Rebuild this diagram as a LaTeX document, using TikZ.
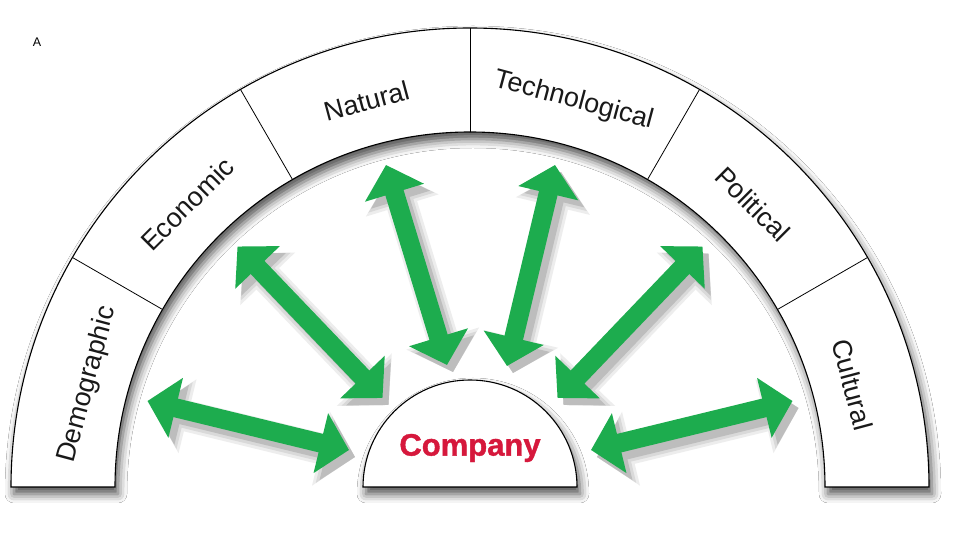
\documentclass[tikz,border=0pt]{standalone}
\usepackage{fontspec}
\setmainfont{Liberation Sans}
\newfontfamily\compfont[BoldFeatures={FakeBold=1.3}]{Liberation Sans}
\usetikzlibrary{arrows.meta,shadows.blur,calc}
\definecolor{arrowgreen}{RGB}{29,172,78}
\definecolor{compred}{RGB}{214,24,60}
\begin{document}
\begin{tikzpicture}[x=1pt,y=1pt,
  >={Triangle[length=29pt,width=60pt]},
  seglabel/.style={font=\fontsize{27}{30}\selectfont, text=black!90, inner sep=0pt},
  arr/.style={draw=arrowgreen, line width=19pt, <->},
  shadowA/.style={draw=black!7, line width=31pt, {Triangle[length=35pt,width=74pt]}-{Triangle[length=35pt,width=74pt]}, transform canvas={shift={(6pt,-7pt)}}},
  shadowB/.style={draw=black!15, line width=25pt, {Triangle[length=32pt,width=67pt]}-{Triangle[length=32pt,width=67pt]}, transform canvas={shift={(6pt,-7pt)}}},
  shadowC/.style={draw=black!26, line width=19pt, <->, transform canvas={shift={(6pt,-7pt)}}},
  archline/.style={draw=black, line width=1.1pt},
  divider/.style={draw=black, line width=0.8pt},
  softshadow/.style={fill=white, blur shadow={shadow xshift=3pt, shadow yshift=-7pt, shadow blur radius=9pt, shadow opacity=70}},
]
\useasboundingbox (0,0) rectangle (960,540);
\fill[white] (0,0) rectangle (960,540);

% centre of the arch
\coordinate (O) at (470,53);

% arrow end points
\coordinate (a1) at (147.5,139);  \coordinate (b1) at (349,90);
\coordinate (a2) at (237.5,293.5);\coordinate (b2) at (382.5,142);
\coordinate (a3) at (386,375);    \coordinate (b3) at (447,175);
\coordinate (a4) at (555,375);    \coordinate (b4) at (507,174);
\coordinate (a5) at (702.5,293.5);\coordinate (b5) at (557.5,142);
\coordinate (a6) at (792.5,139);  \coordinate (b6) at (591,90);

% arrow shadows
\foreach \s in {shadowA,shadowB,shadowC}{
  \foreach \i in {1,...,6}{
    \draw[\s] (a\i) -- (b\i);
  }
}

% arch
\path[softshadow]
  (11,53) arc[start angle=180,end angle=0,radius=459] -- (825,53)
  arc[start angle=0,end angle=180,radius=355] -- cycle;
\draw[archline] (11,53) arc[start angle=180,end angle=0,radius=459] -- (825,53)
  arc[start angle=0,end angle=180,radius=355] -- cycle;
\foreach \a in {30,60,90,120,150}{
  \draw[divider] ($(O)+(\a:355)$) -- ($(O)+(\a:459)$);
}

% segment labels
\node[seglabel, rotate=75]  (demo) at ($(O)+(165:396)$) {Demographic};
\node[seglabel, rotate=45]  (econ) at ($(O)+(135:400)$) {Economic};
\node[seglabel, rotate=15]  (natu) at ($(O)+(105:400)$) {Natural};
\node[seglabel, rotate=-15] (tech) at ($(O)+(75:400)$) {Technological};
\node[seglabel, rotate=-45] (poli) at ($(O)+(45:400)$) {Political};
\node[seglabel, rotate=-75] (cult) at ($(O)+(15:396)$) {Cultural};

% company
\path[softshadow]
  (363,53) arc[start angle=180,end angle=0,radius=107] -- cycle;
\draw[archline] (363,53) arc[start angle=180,end angle=0,radius=107] -- cycle;
\node[font=\compfont\bfseries\fontsize{31}{34}\selectfont, text=compred, inner sep=0pt] (company) at (470,92) {Company};

% arrows
\foreach \i in {1,...,6}{
  \draw[arr] (a\i) -- (b\i);
}

% corner label
\node[font=\fontsize{12.5}{14}\selectfont, inner sep=0pt] (lblA) at (37,498) {A};
\end{tikzpicture}
\end{document}
